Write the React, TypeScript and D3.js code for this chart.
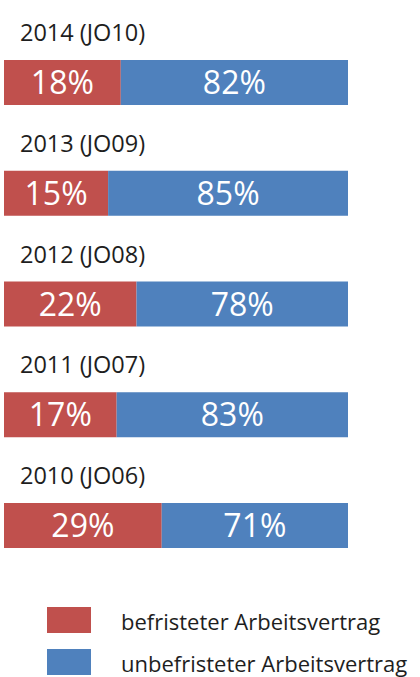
import React from 'react';
import * as d3 from 'd3';

// Values
const years = ['2014 (JO10)', '2013 (JO09)', '2012 (JO08)', '2011 (JO07)', '2010 (JO06)'];
const befristet = [18, 15, 22, 17, 29];
const unbefristet = [82, 85, 78, 83, 71];
const legendLabels = ['befristeter Arbeitsvertrag', 'unbefristeter Arbeitsvertrag'];
const colors = ['#C0504D', '#4F81BD'];

const W = 420;
const H = 677;
const barH = 45;

const App: React.FC = () => {
  // the original bars are not linear in their shares; a power scale fits them
  const x = d3.scalePow().exponent(0.63).domain([0, 100]).range([4, 348]);
  const y = d3.scalePoint<string>().domain(years).range([60, 503]);
  const font = '"Open Sans", Lato, sans-serif';

  return (
    <svg
      width={W}
      height={H}
      style={{ position: 'absolute', left: 0, top: 0, background: '#fff' }}
      fontFamily={font}
    >
      {years.map((yr, i) => {
        const top = y(yr)!;
        const x0 = x(0);
        const x1 = x(befristet[i]);
        const x2 = x(befristet[i] + unbefristet[i]);
        return (
          <g key={yr}>
            <text x={20} y={top - 19} fontSize={23.5} fill="#1e1e1e">
              {yr}
            </text>
            <rect x={x0} y={top} width={x1 - x0} height={barH} fill={colors[0]} />
            <rect x={x1} y={top} width={x2 - x1} height={barH} fill={colors[1]} />
            <text
              x={(x0 + x1) / 2}
              y={top + barH / 2}
              dy="0.36em"
              textAnchor="middle"
              fontSize={32}
              fill="#fff"
            >
              {befristet[i]}%
            </text>
            <text
              x={(x1 + x2) / 2}
              y={top + barH / 2}
              dy="0.36em"
              textAnchor="middle"
              fontSize={32}
              fill="#fff"
            >
              {unbefristet[i]}%
            </text>
          </g>
        );
      })}

      {/* legend */}
      {legendLabels.map((lab, i) => (
        <g key={lab} transform={`translate(47, ${607 + i * 42})`}>
          <rect width={44} height={26} fill={colors[i]} />
          <text x={74} y={23} fontSize={22} fill="#1e1e1e">
            {lab}
          </text>
        </g>
      ))}
    </svg>
  );
};

export default App;
